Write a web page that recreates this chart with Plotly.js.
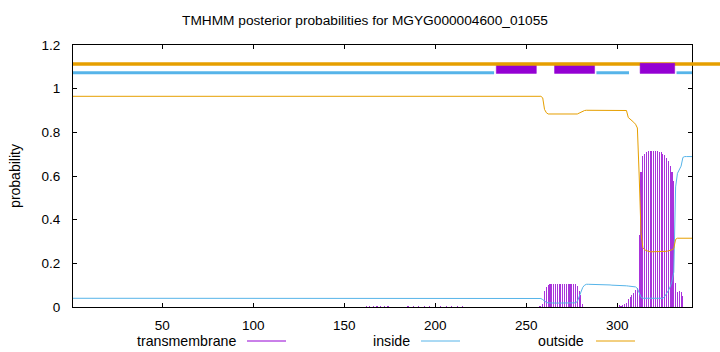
<!DOCTYPE html>
<html><head><meta charset="utf-8">
<script src="https://cdn.plot.ly/plotly-3.0.1.min.js"></script>
<style>html,body{margin:0;padding:0;background:#fff}#chart{width:720px;height:352px}</style>
</head><body><div id="chart"></div>
<script>
// ---------- data ----------
const seqLength = 341;
const xTicks = [50, 100, 150, 200, 250, 300];
const yTicks = [0, 0.2, 0.4, 0.6, 0.8, 1, 1.2];

// flat N-terminal part of the inside / outside curves (breakpoints)
const headPos     = [1, 190, 195, 203, 208, 254];
const insideHead  = [0.040, 0.040, 0.041, 0.041, 0.040, 0.040];
const outsideHead = [0.965, 0.965, 0.962, 0.962, 0.965, 0.965];

// per-residue values, residues 255..341
const tailStart = 255;
const insideTail = [
 0.040,0.040,0.040,0.039,0.034,0.026,0.021,0.019,0.018,0.018,
 0.018,0.018,0.018,0.018,0.018,0.018,0.018,0.018,0.018,0.018,
 0.018,0.018,0.019,0.025,0.045,0.070,0.090,0.100,0.104,0.104,
 0.104,0.104,0.104,0.104,0.104,0.103,0.103,0.102,0.102,0.102,
 0.101,0.101,0.100,0.100,0.100,0.099,0.099,0.098,0.098,0.097,
 0.097,0.096,0.095,0.094,0.093,0.092,0.085,0.065,0.045,0.040,
 0.040,0.040,0.040,0.040,0.040,0.040,0.040,0.040,0.040,0.040,
 0.040,0.048,0.060,0.075,0.092,0.118,0.160,0.550,0.612,0.628,
 0.645,0.685,0.689,0.689,0.689,0.689,0.689];
const outsideTail = [
 0.965,0.965,0.965,0.965,0.958,0.905,0.890,0.884,0.884,0.884,
 0.884,0.884,0.884,0.884,0.884,0.884,0.884,0.884,0.884,0.884,
 0.884,0.884,0.884,0.884,0.888,0.893,0.897,0.900,0.901,0.901,
 0.901,0.901,0.901,0.901,0.901,0.901,0.901,0.901,0.901,0.901,
 0.901,0.901,0.901,0.901,0.901,0.901,0.901,0.901,0.901,0.901,
 0.900,0.868,0.862,0.855,0.846,0.837,0.820,0.600,0.340,0.272,
 0.262,0.258,0.255,0.253,0.253,0.253,0.253,0.253,0.253,0.253,
 0.253,0.253,0.255,0.257,0.259,0.262,0.268,0.310,0.315,0.315,
 0.315,0.315,0.315,0.315,0.315,0.315,0.315];
const tmTail = [
 0.000,0.000,0.003,0.006,0.012,0.075,0.093,0.100,0.104,0.104,
 0.104,0.104,0.104,0.104,0.104,0.104,0.104,0.104,0.104,0.104,
 0.104,0.104,0.104,0.098,0.075,0.055,0.013,0.002,0.000,0.000,
 0.000,0.000,0.000,0.000,0.000,0.002,0.002,0.002,0.002,0.002,
 0.002,0.002,0.002,0.002,0.002,0.012,0.008,0.006,0.010,0.015,
 0.020,0.035,0.047,0.055,0.062,0.077,0.085,0.330,0.617,0.690,
 0.703,0.710,0.714,0.716,0.716,0.716,0.715,0.714,0.712,0.708,
 0.703,0.695,0.682,0.667,0.647,0.620,0.575,0.108,0.070,0.072,
 0.070,0.050,0.002,0.000,0.000,0.000,0.000];
// faint transmembrane values in the middle of the sequence
const tmLowPos = [162,164,166,168,170,172,174,185,188,191,194,197,200,203,206,209,212,215];
const tmLowVal = [0.003,0.003,0.004,0.003,0.003,0.004,0.003,0.004,0.004,0.005,0.004,0.004,0.005,0.004,0.004,0.004,0.003,0.003];

// predicted topology (top bar)
const tmStart = [233.5, 265.5, 312.5];
const tmEnd   = [255.5, 287.5, 331.5];
const inStart = [1, 288.5, 332.5];
const inEnd   = [232.3, 306.4, 341];
const outStart = 1, outEnd = 357;

const legendNames = ['transmembrane', 'inside', 'outside'];

// ---------- build ----------
const C_TM = '#9400d3', C_IN = '#56b4e9', C_OUT = '#e69f00';
const FONT = 'Liberation Sans, Arial, Helvetica, sans-serif';

const tailPos = insideTail.map((_, i) => tailStart + i);
const curvePos = headPos.concat(tailPos);
const insideY = insideHead.concat(insideTail);
const outsideY = outsideHead.concat(outsideTail);
const tmPos = tmLowPos.concat(tailPos);
const tmVal = tmLowVal.concat(tmTail);

const W = 720, H = 352, ML = 73, MR = 0, MT = 45, MB = 45;
const plotRightPx = 692;
const plotW = W - ML - MR;
const xDomainEnd = (plotRightPx - ML) / plotW;
const x2Max = 1 + (seqLength - 1) * plotW / (plotRightPx - ML);

const traces = [];
traces.push({type:'bar', x: tmPos, y: tmVal, width: 0.6,
  marker:{color: C_TM, line:{width:0}}, opacity: 0.8, showlegend:false, hoverinfo:'skip'});
traces.push({type:'scatter', mode:'lines', x: curvePos, y: insideY,
  line:{color: C_IN, width: 1}, showlegend:false, hoverinfo:'skip'});
traces.push({type:'scatter', mode:'lines', x: curvePos, y: outsideY,
  line:{color: C_OUT, width: 1}, showlegend:false, hoverinfo:'skip'});

const BOX_LO = 1.070, BOX_HI = 1.116, OUT_LVL = 1.113, IN_LVL = 1.073;
function box(i){
  return {type:'scatter', mode:'lines', xaxis:'x2', yaxis:'y',
    x:[tmStart[i], tmEnd[i], tmEnd[i], tmStart[i], tmStart[i]],
    y:[BOX_LO, BOX_LO, BOX_HI, BOX_HI, BOX_LO],
    fill:'toself', fillcolor: C_TM, line:{color: C_TM, width: 0.5},
    showlegend:false, hoverinfo:'skip'};
}
traces.push(box(0));
traces.push(box(1));
traces.push({type:'scatter', mode:'lines', xaxis:'x2', yaxis:'y',
  x:[outStart, outEnd], y:[OUT_LVL, OUT_LVL], line:{color: C_OUT, width: 3.4},
  showlegend:false, hoverinfo:'skip'});
traces.push(box(2));
for (let i = 0; i < inStart.length; i++) {
  traces.push({type:'scatter', mode:'lines', xaxis:'x2', yaxis:'y',
    x:[inStart[i], inEnd[i]], y:[IN_LVL, IN_LVL], line:{color: C_IN, width: 2.8},
    showlegend:false, hoverinfo:'skip'});
}

// manual gnuplot-style key (text, then sample line)
const px2x = px => (px - ML) / plotW;
const py2y = py => (H - MB - py) / (H - MT - MB);
const keyTextRight = [238, 412, 586];
const keyLine = [[247, 286], [421, 460], [596, 635]];
const keyColors = [C_TM, C_IN, C_OUT];
const keyY = 341;
const annotations = legendNames.map((n, i) => ({
  text: n, xref:'paper', yref:'paper', x: px2x(keyTextRight[i]), y: py2y(keyY),
  xanchor:'right', yanchor:'middle', showarrow:false,
  font:{family: FONT, size: 14.2, color:'#000'}}));
const shapes = keyLine.map((l, i) => ({type:'line', xref:'paper', yref:'paper',
  x0: px2x(l[0]), x1: px2x(l[1]), y0: py2y(keyY), y1: py2y(keyY),
  line:{color: keyColors[i], width: 1}}));

const layout = {
  width: W, height: H,
  margin:{l: ML, r: MR, t: MT, b: MB, pad: 0},
  paper_bgcolor:'#fff', plot_bgcolor:'rgba(0,0,0,0)',
  font:{family: FONT, size: 13, color:'#000'},
  showlegend:false,
  bargap: 0,
  title:{text:'TMHMM posterior probabilities for MGYG000004600_01055',
    xref:'container', x: 365 / W, xanchor:'center',
    yref:'container', y: 1 - 20 / H, yanchor:'middle',
    font:{family: FONT, size: 13.7, color:'#000'}},
  xaxis:{domain:[0, xDomainEnd], range:[1, seqLength], tickvals: xTicks,
    ticks:'inside', ticklen: 4, tickcolor:'#000', tickwidth: 1,
    showline:true, linecolor:'#000', linewidth:1, mirror:'ticks',
    showgrid:false, zeroline:false, ticklabelstandoff: 6,
    tickfont:{family: FONT, size: 13.5, color:'#000'}, fixedrange:true},
  xaxis2:{domain:[0, 1], range:[1, x2Max], anchor:'y', visible:false,
    showgrid:false, zeroline:false, fixedrange:true},
  yaxis:{range:[0, 1.2], tickvals: yTicks, ticktext: yTicks.map(String),
    ticks:'inside', ticklen: 4, tickcolor:'#000', tickwidth:1,
    showline:true, linecolor:'#000', linewidth:1, mirror:'ticks',
    showgrid:false, zeroline:false, ticklabelstandoff: 9,
    tickfont:{family: FONT, size: 13.5, color:'#000'},
    title:{text:'probability', font:{family: FONT, size: 14, color:'#000'}, standoff: 17},
    fixedrange:true},
  annotations, shapes
};

Plotly.newPlot('chart', traces, layout, {displayModeBar:false, staticPlot:true});
</script>
</body></html>
